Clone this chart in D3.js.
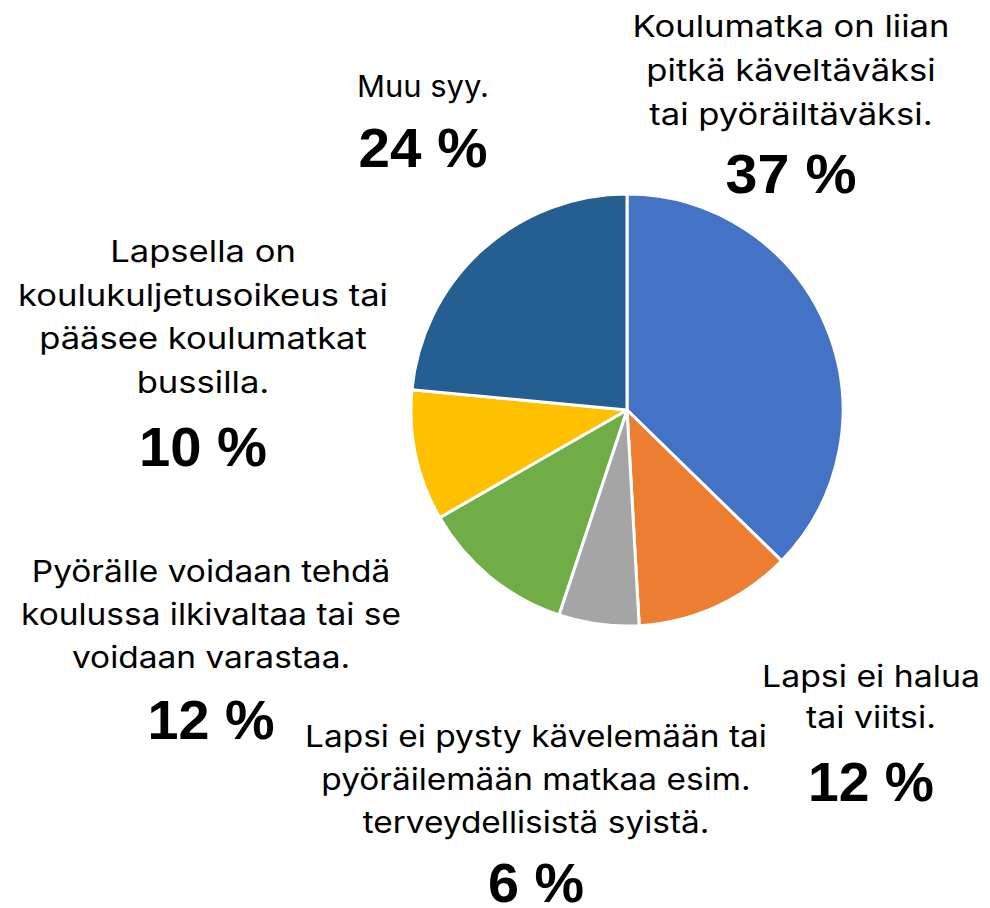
<!DOCTYPE html>
<html>
<head>
<meta charset="utf-8">
<script src="https://cdn.jsdelivr.net/npm/d3@7"></script>
<style>
  html, body { margin: 0; padding: 0; background: #ffffff; }
  svg { display: block; }
</style>
</head>
<body>
<div id="chart"></div>
<script>
// ---- Data ----
const categories = [
  "Koulumatka on liian pitkä käveltäväksi tai pyöräiltäväksi.",
  "Lapsi ei halua tai viitsi.",
  "Lapsi ei pysty kävelemään tai pyöräilemään matkaa esim. terveydellisistä syistä.",
  "Pyörälle voidaan tehdä koulussa ilkivaltaa tai se voidaan varastaa.",
  "Lapsella on koulukuljetusoikeus tai pääsee koulumatkat bussilla.",
  "Muu syy."
];
const values = [37.3, 11.8, 6.0, 11.6, 9.8, 23.5];
const labelLines = [
  ["Koulumatka on liian", "pitkä käveltäväksi", "tai pyöräiltäväksi."],
  ["Lapsi ei halua", "tai viitsi."],
  ["Lapsi ei pysty kävelemään tai", "pyöräilemään matkaa esim.", "terveydellisistä syistä."],
  ["Pyörälle voidaan tehdä", "koulussa ilkivaltaa tai se", "voidaan varastaa."],
  ["Lapsella on", "koulukuljetusoikeus tai", "pääsee koulumatkat", "bussilla."],
  ["Muu syy."]
];
const colors = ["#4472C4", "#ED7D31", "#A5A5A5", "#70AD47", "#FFC000", "#255E91"];

// ---- Layout (not data) ----
const W = 990, H = 908;
const cx = 627, cy = 410, R = 216;
// label block placement: centre x, first baseline, line height, widest-line width, pct baseline, pct width
const labelLayout = [
  { x: 791, y: 37,  lh: 44,   w: 317, py: 193, pw: 131 },
  { x: 871, y: 687, lh: 41,   w: 218, py: 801, pw: 126 },
  { x: 536, y: 747, lh: 43,   w: 462, py: 902, pw: 96 },
  { x: 211, y: 582, lh: 43,   w: 380, py: 739, pw: 127 },
  { x: 203, y: 262, lh: 43.7, w: 370, py: 466, pw: 128 },
  { x: 423, y: 97,  lh: 44,   w: 132, py: 167, pw: 129 }
];

const svg = d3.select("#chart").append("svg")
  .attr("width", W).attr("height", H);

const pie = d3.pie().sort(null).value(d => d);
const arcs = pie(values);
const arc = d3.arc().innerRadius(0).outerRadius(R);

const g = svg.append("g").attr("transform", `translate(${cx},${cy})`);
g.selectAll("path").data(arcs).join("path")
  .attr("d", arc)
  .attr("fill", (d, i) => colors[i])
  .attr("stroke", "#ffffff")
  .attr("stroke-width", 3)
  .attr("stroke-linejoin", "round");

// ---- Labels ----
const bodyFont = "Inter, 'Noto Sans', sans-serif";
const pctFont = "'Liberation Sans', Arial, sans-serif";

labelLines.forEach((lines, i) => {
  const L = labelLayout[i];
  const grp = svg.append("g").attr("class", "label");
  const texts = lines.map((line, j) => grp.append("text")
    .attr("text-anchor", "middle")
    .attr("font-family", bodyFont)
    .attr("font-size", 30)
    .attr("fill", "#000")
    .text(line));
  const maxW = d3.max(texts, t => t.node().getComputedTextLength());
  const sx = L.w / maxW;
  texts.forEach((t, j) => {
    t.attr("transform", `translate(${L.x},${L.y + j * L.lh}) scale(${sx},1)`);
  });
  const pct = grp.append("text")
    .attr("text-anchor", "middle")
    .attr("font-family", pctFont)
    .attr("font-weight", "bold")
    .attr("font-size", 55)
    .attr("fill", "#000")
    .text(Math.round(values[i]) + " %");
  const pwNat = pct.node().getComputedTextLength();
  pct.attr("transform", `translate(${L.x},${L.py}) scale(${L.pw / pwNat},1)`);
});
</script>
</body>
</html>
